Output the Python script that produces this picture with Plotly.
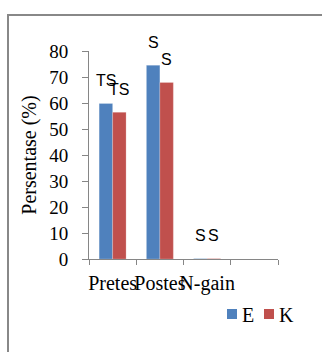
import plotly.graph_objects as go

categories = ["Pretes", "Postes", "N-gain", " "]
series_names = ["E", "K"]
values_E = [59.8, 74.5, 0.15, None]
values_K = [56.4, 67.9, 0.15, None]
labels_E = ["TS", "S", "S", None]
labels_K = ["TS", "S", "S", None]
y_ticks = [0, 10, 20, 30, 40, 50, 60, 70, 80]

colors = ["#4F81BD", "#C0504D"]
W, H = 322, 352
ml, mr, mt, mb = 89, 44, 51, 93
bargap = 0.43

fig = go.Figure()
for name, vals, col in zip(series_names, [values_E, values_K], colors):
    fig.add_trace(go.Bar(
        x=categories, y=vals, name=name, showlegend=False,
        marker=dict(color=col, line=dict(color="rgba(255,255,255,0.35)", width=0.6)),
    ))

off = (1 - bargap) / 4
annotations = []
for si, (vals, labs) in enumerate([(values_E, labels_E), (values_K, labels_K)]):
    for ci, (v, lab) in enumerate(zip(vals, labs)):
        if lab is None or v is None:
            continue
        annotations.append(dict(
            x=ci + (-off if si == 0 else off), y=v, xref="x", yref="y",
            text=lab, showarrow=False, yanchor="middle", yshift=23,
            font=dict(family="Liberation Sans", size=16, color="#000000"),
        ))

pw = W - ml - mr
ph = H - mt - mb
def px_to_paper_x(px):
    return (px - ml) / pw
def px_to_paper_y(py):
    return (H - mb - py) / ph

# legend (drawn as swatches + text, laid out like the reference)
shapes = [dict(type="rect", xref="paper", yref="paper",
               x0=px_to_paper_x(8), x1=px_to_paper_x(330),
               y0=px_to_paper_y(360), y1=px_to_paper_y(15),
               line=dict(color="#888888", width=2), fillcolor="rgba(0,0,0,0)",
               layer="below")]
leg_x = [227, 264]
leg_y = 314
for name, col, lx in zip(series_names, colors, leg_x):
    shapes.append(dict(type="rect", xref="paper", yref="paper",
                       x0=px_to_paper_x(lx), x1=px_to_paper_x(lx + 10),
                       y0=px_to_paper_y(leg_y + 5), y1=px_to_paper_y(leg_y - 5),
                       line=dict(width=0), fillcolor=col))
    annotations.append(dict(x=px_to_paper_x(lx + 13), y=px_to_paper_y(leg_y + 1),
                            xref="paper", yref="paper", xanchor="left", yanchor="middle",
                            text=name, showarrow=False,
                            font=dict(family="Liberation Serif", size=20, color="#000000")))

fig.update_layout(
    width=W, height=H,
    margin=dict(l=ml, r=mr, t=mt, b=mb, autoexpand=False),
    paper_bgcolor="white", plot_bgcolor="white",
    barmode="group", bargap=bargap, bargroupgap=0,
    font=dict(family="Liberation Serif", size=19, color="#000000"),
    showlegend=False,
    xaxis=dict(
        type="category", categoryorder="array", categoryarray=categories,
        range=[-0.5, len(categories) - 0.5],
        showline=True, linecolor="#868686", linewidth=1,
        ticks="outside", tickson="boundaries", ticklen=5, tickcolor="#868686",
        showgrid=False, zeroline=False, ticklabelstandoff=6, tickangle=0,
        tickfont=dict(family="Liberation Serif", size=20),
    ),
    yaxis=dict(
        range=[0, 80], tickvals=y_ticks, ticktext=[str(t) for t in y_ticks],
        showline=True, linecolor="#868686", linewidth=1,
        ticks="outside", ticklen=6, tickcolor="#868686",
        showgrid=False, zeroline=False, ticklabelstandoff=10,
        tickfont=dict(family="Liberation Serif", size=19),
        title=dict(text="Persentase (%)", standoff=7,
                   font=dict(family="Liberation Serif", size=20)),
    ),
    annotations=annotations,
    shapes=shapes,
)

fig.write_html("out.html")
